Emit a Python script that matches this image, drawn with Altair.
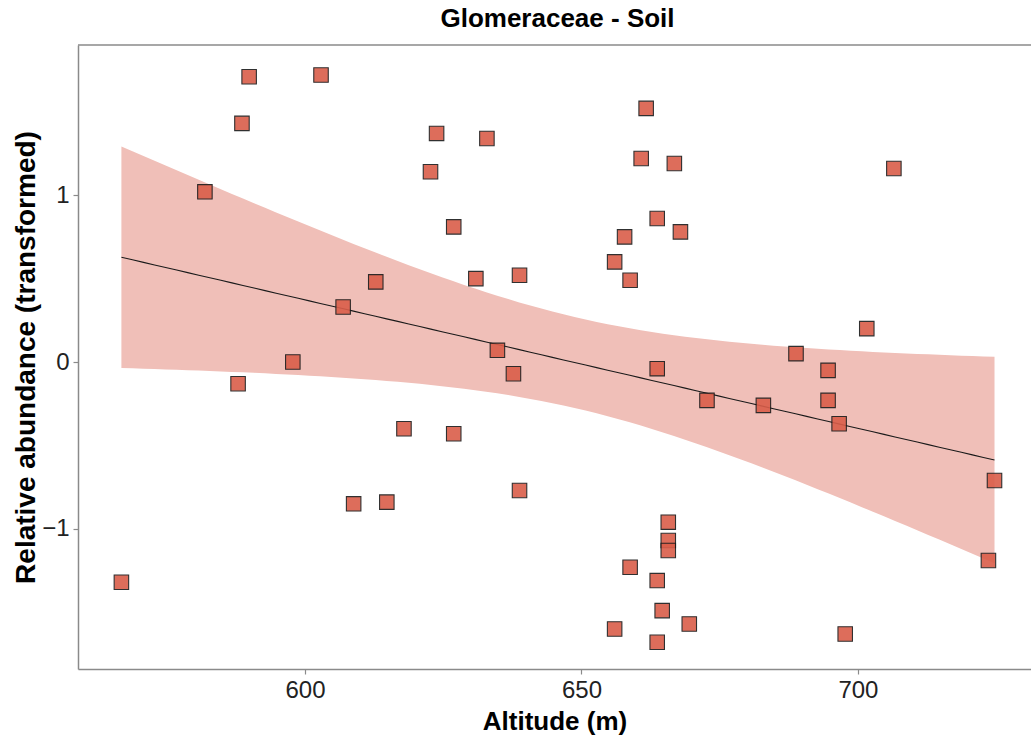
import altair as alt
import numpy as np
import pandas as pd

# Data
altitude = [566.8, 581.9, 587.9, 588.6, 589.9, 597.8, 602.9, 606.9, 608.8, 612.8,
            614.8, 617.9, 622.7, 623.8, 626.9, 626.9, 630.9, 632.9, 634.8, 637.7,
            638.8, 638.8, 656.0, 656.0, 657.8, 658.8, 658.8, 661.7, 660.8, 663.7,
            663.7, 663.7, 663.7, 664.6, 665.7, 665.7, 665.7, 666.8, 667.9, 669.5,
            672.7, 682.9, 688.8, 694.6, 694.6, 696.6, 697.7, 701.6, 706.5, 723.6,
            724.7]
abundance = [-1.32, 1.02, -0.13, 1.43, 1.71, 0.00, 1.72, 0.33, -0.85, 0.48,
             -0.84, -0.40, 1.14, 1.37, 0.81, -0.43, 0.50, 1.34, 0.07, -0.07,
             0.52, -0.77, 0.60, -1.60, 0.75, 0.49, -1.23, 1.52, 1.22, 0.86,
             -0.04, -1.31, -1.68, -1.49, -0.96, -1.07, -1.13, 1.19, 0.78, -1.57,
             -0.23, -0.26, 0.05, -0.05, -0.23, -0.37, -1.63, 0.20, 1.16, -1.19,
             -0.71]
x_ticks = [600, 650, 700]
y_ticks = [-1, 0, 1]

pts = pd.DataFrame({"alt": altitude, "ab": abundance})

# Linear model fit with 95% confidence band (as geom_smooth(method="lm"))
xa = np.array(altitude)
ya = np.array(abundance)
n = len(xa)
b1, b0 = np.polyfit(xa, ya, 1)
resid = ya - (b0 + b1 * xa)
s = np.sqrt(np.sum(resid ** 2) / (n - 2))
xm = xa.mean()
sxx = np.sum((xa - xm) ** 2)
tq = 2.0096
xg = np.linspace(xa.min(), xa.max(), 80)
fit = b0 + b1 * xg
se = s * np.sqrt(1.0 / n + (xg - xm) ** 2 / sxx)
band = pd.DataFrame({"alt": xg, "fit": fit, "lo": fit - tq * se, "hi": fit + tq * se})

W, H = 953, 624
xdom = [558.95, 731.3]
ydom = [-1.84, 1.90]
xs = alt.Scale(domain=xdom, nice=False, zero=False)
ys = alt.Scale(domain=ydom, nice=False, zero=False)
xaxis = alt.Axis(values=x_ticks, format="d")
yaxis = alt.Axis(values=y_ticks, format="d", titleFontSize=28, titlePadding=1)
XT = "Altitude (m)"
YT = "Relative abundance (transformed)"

area = alt.Chart(band).mark_area(color="#F0BFB8", opacity=1).encode(
    x=alt.X("alt:Q", scale=xs, axis=xaxis, title=XT),
    y=alt.Y("lo:Q", scale=ys, axis=yaxis, title=YT),
    y2="hi:Q",
)
line = alt.Chart(band).mark_line(color="#1a1a1a", strokeWidth=1.1).encode(
    x=alt.X("alt:Q", scale=xs, axis=xaxis, title=XT),
    y=alt.Y("fit:Q", scale=ys, axis=yaxis, title=YT),
)
points = alt.Chart(pts).mark_point(
    shape="square", size=210, filled=True, fill="#DA5E4A", stroke="#1a1a1a",
    strokeWidth=1.1, opacity=0.9,
).encode(
    x=alt.X("alt:Q", scale=xs, axis=xaxis, title=XT),
    y=alt.Y("ab:Q", scale=ys, axis=yaxis, title=YT),
)
top = alt.Chart(pd.DataFrame({"k": [0]})).mark_rule(color="#8a8a8a", strokeWidth=1.5).encode(
    x=alt.value(0), x2=alt.value(W), y=alt.value(0)
)

chart = alt.layer(area, line, points, top).properties(
    width=W, height=H,
    title=alt.TitleParams("Glomeraceae - Soil", fontSize=26, fontWeight="bold",
                          font="Liberation Sans", color="#000", anchor="middle",
                          offset=12, dx=3),
    autosize=alt.AutoSizeParams(type="none"),
    padding={"left": 78, "top": 45, "right": 0, "bottom": 75},
).configure_view(stroke=None).configure_axis(
    labelFont="Liberation Sans", labelFontSize=24, labelColor="#222",
    titleFont="Liberation Sans", titleFontSize=26, titleFontWeight="bold", titleColor="#000",
    domainColor="#8a8a8a", domainWidth=1.5, tickColor="#8a8a8a", tickWidth=1.2,
    tickSize=5, labelPadding=4, grid=False,
).configure_axisX(titlePadding=6)

chart.save("out.html", embed_options={"renderer": "svg", "actions": False})
